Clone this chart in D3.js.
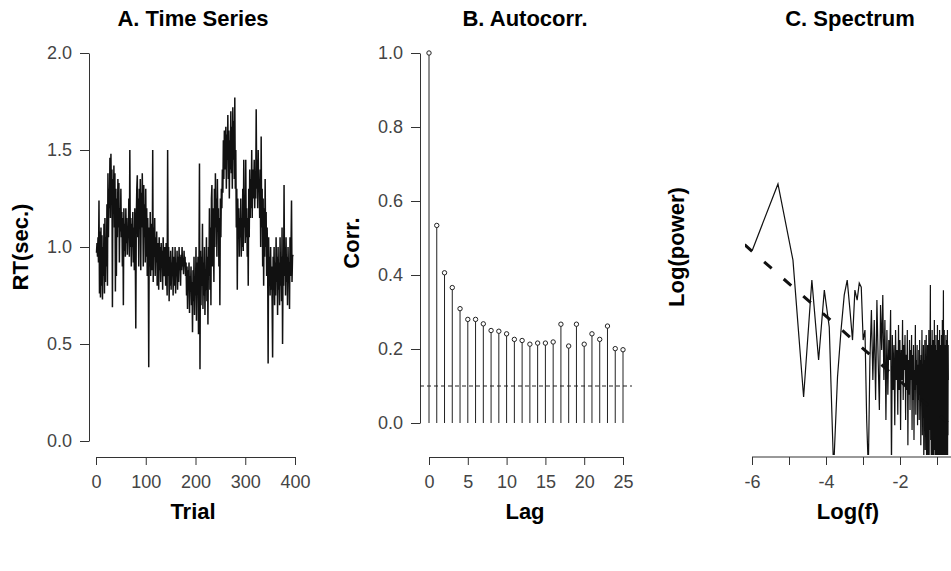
<!DOCTYPE html>
<html>
<head>
<meta charset="utf-8">
<script src="https://cdn.jsdelivr.net/npm/d3@7"></script>
<style>
  body { margin: 0; background: #fff; }
  text { font-family: "Liberation Sans", Arial, sans-serif; }
  .tick text { font-size: 18px; fill: #444; }
  .domain, .tick line { stroke: #333; }
</style>
</head>
<body>
<div id="chart"></div>
<script>
// RT per trial (sec.), trials 1..396
var rt = [
  0.97, 1.02, 0.95, 1.05, 0.92, 1.24, 0.76, 1.08, 0.74, 1.10,
  0.80, 1.06, 0.73, 1.00, 0.85, 1.12, 0.76, 1.15, 0.82, 1.05,
  0.90, 1.22, 0.80, 1.38, 1.05, 1.30, 1.20, 1.46, 1.15, 1.48,
  1.25, 1.40, 0.69, 1.35, 1.22, 1.42, 1.10, 1.38, 0.77, 1.30,
  0.85, 1.25, 1.05, 1.35, 1.10, 1.33, 0.92, 1.20, 1.08, 1.30,
  1.05, 1.18, 0.90, 1.15, 0.70, 1.20, 0.98, 1.12, 0.95, 1.20,
  1.02, 1.15, 0.96, 1.10, 1.05, 1.25, 0.95, 1.50, 1.00, 1.15,
  0.90, 1.12, 1.00, 1.18, 0.92, 1.10, 0.88, 1.20, 0.95, 0.58,
  1.15, 1.30, 1.37, 1.05, 1.25, 0.90, 1.30, 1.15, 1.35, 0.88,
  1.28, 1.10, 1.38, 1.20, 0.90, 1.32, 1.05, 1.22, 0.92, 1.30,
  0.95, 1.20, 0.85, 1.15, 0.95, 0.38, 1.10, 0.90, 1.18, 0.85,
  1.05, 1.12, 0.88, 1.50, 0.82, 1.10, 0.95, 1.15, 0.85, 1.05,
  0.92, 1.08, 0.80, 1.02, 0.95, 0.78, 1.05, 0.88, 1.00, 0.82,
  1.02, 0.90, 0.98, 0.78, 1.05, 0.92, 0.85, 1.00, 0.95, 0.80,
  1.02, 0.88, 0.75, 1.50, 0.85, 1.00, 0.72, 0.95, 0.80, 0.98,
  0.78, 0.92, 0.85, 1.00, 0.75, 0.95, 0.88, 0.80, 1.00, 0.76,
  0.92, 0.85, 0.98, 0.78, 0.95, 0.82, 1.00, 0.88, 0.95, 0.80,
  0.96, 0.88, 1.00, 0.90, 0.94, 0.86, 0.98, 0.90, 0.95, 0.85,
  0.92, 0.75, 0.90, 0.68, 0.88, 0.80, 0.92, 0.66, 0.85, 0.78,
  0.90, 0.70, 0.82, 0.56, 0.88, 0.72, 0.95, 0.65, 0.85, 0.75,
  1.00, 0.62, 0.92, 0.78, 0.95, 0.55, 0.90, 1.43, 0.37, 0.98,
  0.70, 0.95, 0.80, 1.12, 0.68, 0.92, 0.75, 1.00, 0.65, 0.88,
  0.78, 1.05, 0.72, 0.95, 0.60, 1.00, 0.85, 1.20, 0.78, 1.10,
  0.70, 1.25, 1.32, 0.90, 1.20, 1.05, 0.82, 1.30, 1.00, 1.38,
  1.10, 1.25, 0.95, 1.35, 1.08, 1.20, 0.90, 1.15, 0.70, 1.25,
  1.05, 1.30, 1.20, 1.40, 1.28, 1.55, 1.35, 1.60, 1.40, 1.50,
  1.62, 1.30, 1.58, 1.45, 1.68, 1.35, 1.60, 1.25, 1.55, 1.40,
  1.70, 1.38, 1.62, 1.30, 1.72, 1.45, 1.65, 1.35, 1.77, 1.30,
  1.50, 1.10, 1.30, 0.78, 1.25, 1.05, 1.20, 0.95, 1.15, 1.05,
  1.25, 0.95, 1.15, 1.00, 1.30, 0.98, 1.45, 1.10, 1.20, 1.02,
  1.45, 1.05, 1.20, 0.95, 1.15, 0.80, 1.30, 1.05, 1.40, 1.15,
  1.35, 1.20, 1.50, 1.15, 1.40, 1.25, 1.30, 1.45, 1.20, 1.38,
  1.25, 1.71, 1.30, 1.45, 1.20, 1.50, 1.30, 1.35, 1.15, 1.40,
  1.00, 1.57, 1.10, 1.30, 0.90, 1.25, 0.80, 1.20, 0.95, 1.35,
  1.00, 1.18, 0.85, 1.10, 0.95, 0.40, 1.05, 0.80, 0.95, 0.75,
  1.00, 0.78, 0.90, 0.72, 0.43, 0.95, 0.80, 1.00, 0.70, 0.92,
  0.75, 1.05, 0.82, 0.95, 0.65, 1.00, 0.78, 0.92, 0.70, 1.05,
  0.80, 0.95, 0.72, 1.10, 0.50, 0.90, 0.80, 1.32, 0.85, 1.00,
  0.75, 1.05, 0.82, 0.95, 0.70, 1.00, 0.85, 0.92, 0.68, 1.05,
  0.85, 1.00, 1.24, 0.82, 0.95, 0.96
];

// autocorrelation, lags 0..25
var lags = d3.range(0, 26);
var acf = [1.00, 0.534, 0.406, 0.366, 0.309, 0.280, 0.280, 0.268, 0.250, 0.248,
           0.241, 0.226, 0.223, 0.213, 0.216, 0.216, 0.219, 0.267, 0.208, 0.267,
           0.213, 0.241, 0.226, 0.262, 0.201, 0.198];
var acfRef = 0.10; // dashed reference line

// log power at frequencies k/400, k = 1..200 (arbitrary offset, no y axis)
var logPower = [
  5.59, 7.38, 5.32, 1.62, 4.78, 2.62, 4.51, 3.51, -0.35, 2.16,
  3.43, 4.38, 4.78, 3.97, 3.16, 4.51, 4.24, 4.70, 4.59, 3.16,
  3.43, 1.00, -0.35, 2.62, 3.97, 2.08, 3.70, 1.54, 4.24, 2.62,
  1.27, 4.11, 2.89, 4.38, 2.08, 3.70, 1.00, 3.43, 1.68, 3.16,
  2.62, 3.97, -0.35, 3.30, 1.81, 3.03, 0.86, 3.43, 2.08, 2.89,
  1.14, 3.57, 1.81, 3.16, 0.73, 2.89, 2.08, 3.70, 1.54, 3.03,
  2.35, 3.30, 1.00, 2.76, 1.81, 3.43, 0.32, 2.62, 1.68, 3.16,
  1.27, 2.89, 2.08, 3.30, 0.73, 2.76, 1.54, 3.03, 0.46, 2.35,
  1.81, 3.57, 1.14, 2.62, 1.95, 3.03, 0.86, 2.49, 1.54, 2.89,
  1.00, 3.16, 1.68, 2.62, 0.32, 2.76, 1.95, 3.43, 0.59, 2.49,
  1.54, 3.03, -0.35, 2.62, 1.27, 3.16, 0.19, 2.35, 1.68, 3.30,
  -0.35, 2.62, 1.00, 3.03, -0.35, 2.22, 1.54, 3.43, -0.08, 2.76,
  0.73, 2.89, 4.65, 0.46, 2.62, -0.35, 3.03, 1.27, 3.43, -0.22,
  2.49, 1.00, 3.16, -0.35, 2.76, 1.68, 3.70, 0.19, 2.35, -0.35,
  3.03, 1.14, 3.30, -0.35, 2.62, 0.73, 2.89, -0.22, 3.57, 1.54,
  -0.35, 2.76, 0.86, 3.16, -0.35, 2.35, 1.27, 3.43, -0.08, 2.62,
  0.46, 3.03, -0.35, 2.22, 1.41, 3.30, -0.35, 2.76, 0.73, 3.70,
  0.05, 2.49, 1.14, 3.16, 4.51, -0.35, 2.89, 1.00, 3.43, -0.35,
  2.62, 0.46, 3.03, -0.22, 2.35, 1.54, 3.30, -0.35, 2.76, 0.86,
  3.16, -0.35, 2.49, 1.27, 3.43, -0.08, 2.89, 0.59, 3.03, 2.08
];
// least-squares line: logPower = fitA + fitB * log(f)
var fitA = 0.30, fitB = -0.877;

var width = 951, height = 571;
var svg = d3.select("#chart").append("svg")
  .attr("width", width)
  .attr("height", height);

function title(x, txt) {
  svg.append("text").attr("x", x).attr("y", 26)
    .attr("text-anchor", "middle").style("font-size", "22px").style("font-weight", "bold")
    .text(txt);
}
function xTitle(x, txt) {
  svg.append("text").attr("x", x).attr("y", 519)
    .attr("text-anchor", "middle").style("font-size", "22px").style("font-weight", "bold")
    .text(txt);
}
function yTitle(x, y, txt) {
  svg.append("text").attr("transform", "translate(" + x + "," + y + ") rotate(-90)")
    .attr("text-anchor", "middle").style("font-size", "22px").style("font-weight", "bold")
    .text(txt);
}

// ---- A. Time Series ----
var xA = d3.scaleLinear().domain([0, 400]).range([96, 295]);
var yA = d3.scaleLinear().domain([0, 2]).range([441, 53]);

svg.append("g").attr("transform", "translate(0,457)")
  .call(d3.axisBottom(xA).tickValues([0, 100, 200, 300, 400]).tickSize(8).tickSizeOuter(0).tickPadding(10));
svg.append("g").attr("transform", "translate(89,0)")
  .call(d3.axisLeft(yA).tickValues([0, 0.5, 1, 1.5, 2]).tickFormat(d3.format(".1f"))
    .tickSize(9).tickSizeOuter(0).tickPadding(8));

svg.append("path")
  .datum(rt)
  .attr("fill", "none")
  .attr("stroke", "#111")
  .attr("stroke-width", 1.5)
  .attr("d", d3.line()
    .x(function(d, i) { return xA(i + 1) })
    .y(function(d) { return yA(d) }));

title(193, "A. Time Series");
xTitle(193, "Trial");
yTitle(28, 247, "RT(sec.)");

// ---- B. Autocorr. ----
var xB = d3.scaleLinear().domain([0, 25]).range([429, 623]);
var yB = d3.scaleLinear().domain([0, 1]).range([423, 53]);

svg.append("g").attr("transform", "translate(0,457)")
  .call(d3.axisBottom(xB).tickValues([0, 5, 10, 15, 20, 25]).tickSize(8).tickSizeOuter(0).tickPadding(10));
svg.append("g").attr("transform", "translate(420,0)")
  .call(d3.axisLeft(yB).tickValues([0, 0.2, 0.4, 0.6, 0.8, 1.0]).tickFormat(d3.format(".1f"))
    .tickSize(9).tickSizeOuter(0).tickPadding(8));

svg.append("line")
  .attr("x1", 420).attr("x2", 632)
  .attr("y1", yB(acfRef)).attr("y2", yB(acfRef))
  .attr("stroke", "#222").attr("stroke-width", 1)
  .attr("stroke-dasharray", "4,3");

svg.selectAll(".stem")
  .data(acf)
  .enter().append("line")
  .attr("class", "stem")
  .attr("x1", function(d, i) { return xB(lags[i]) })
  .attr("x2", function(d, i) { return xB(lags[i]) })
  .attr("y1", yB(0))
  .attr("y2", function(d) { return yB(d) })
  .attr("stroke", "#222").attr("stroke-width", 1);

svg.selectAll(".pt")
  .data(acf)
  .enter().append("circle")
  .attr("class", "pt")
  .attr("cx", function(d, i) { return xB(lags[i]) })
  .attr("cy", function(d) { return yB(d) })
  .attr("r", 2.2)
  .attr("fill", "#fff").attr("stroke", "#222").attr("stroke-width", 1);

title(525, "B. Autocorr.");
xTitle(525, "Lag");
yTitle(359, 243, "Corr.");

// ---- C. Spectrum ----
var xC = d3.scaleLinear().domain([-6, -1]).range([752, 937]);
var yC = d3.scaleLinear().domain([0, 8]).range([457, 161]);

svg.append("defs").append("clipPath").attr("id", "clipC")
  .append("rect").attr("x", 745).attr("y", 40).attr("width", 206).attr("height", 415);

var xAxisC = d3.axisBottom(xC).tickValues([-6, -5, -4, -3, -2, -1])
  .tickSize(8).tickSizeOuter(0).tickPadding(10);
var gC = svg.append("g").attr("transform", "translate(0,457)").call(xAxisC);
gC.select(".domain").attr("d", "M752,0H951");
gC.selectAll(".tick text").text(function(d) { return d % 2 === 0 ? "-" + Math.abs(d) : "" });

var gLine = svg.append("g").attr("clip-path", "url(#clipC)");
gLine.append("path")
  .datum(logPower)
  .attr("fill", "none")
  .attr("stroke", "#111")
  .attr("stroke-width", 1.2)
  .attr("d", d3.line()
    .x(function(d, i) { return xC(Math.log((i + 1) / 400)) })
    .y(function(d) { return yC(d) }));

var fitX = [-6.2, -0.6];
gLine.append("line")
  .attr("x1", xC(fitX[0])).attr("y1", yC(fitA + fitB * fitX[0]))
  .attr("x2", xC(fitX[1])).attr("y2", yC(fitA + fitB * fitX[1]))
  .attr("stroke", "#111").attr("stroke-width", 3)
  .attr("stroke-dasharray", "10,16");

title(850, "C. Spectrum");
xTitle(848, "Log(f)");
yTitle(684, 247, "Log(power)");
</script>
</body>
</html>
